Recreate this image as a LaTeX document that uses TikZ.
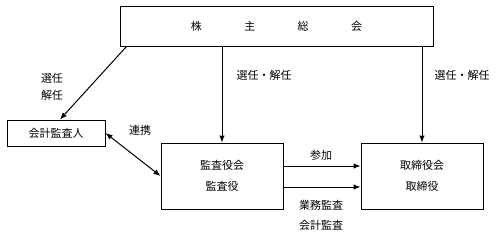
\documentclass[tikz,border=0pt]{standalone}
\usepackage{fontspec}
\newfontfamily\jpfont{Noto Sans CJK JP}
\usetikzlibrary{positioning,calc,arrows.meta}
\tikzset{
  orgbox/.style={draw,line width=1pt,align=center,inner sep=0pt,font=\jpfont\fontsize{11}{21}\selectfont},
  lbl/.style={align=center,inner sep=0pt,font=\jpfont\fontsize{11}{17}\selectfont},
  link/.style={line width=1pt,-{Latex[length=7pt,width=5.5pt]}},
  duallink/.style={line width=1pt,{Latex[length=7pt,width=5.5pt]}-{Latex[length=7pt,width=5.5pt]}},
}
\newcommand{\wide}{\hspace{3.85em}}

\begin{document}
\begin{tikzpicture}[x=1pt,y=1pt]
  \useasboundingbox (0,0) rectangle (501,239);
  % boxes
  \node[orgbox,minimum width=313pt,minimum height=39pt] (gm) at (276.5,212.5) {株\wide 主\wide 総\wide 会};
  \node[orgbox,minimum width=98pt,minimum height=26pt] (acct) at (56,106) {会計監査人};
  \node[orgbox,minimum width=122pt,minimum height=66pt] (aud) at (222,63) {監査役会\\監査役};
  \node[orgbox,minimum width=122pt,minimum height=66pt] (brd) at (422,63) {取締役会\\取締役};
  % connectors
  \draw[link] ($(gm.south west)+(7,0)$) -- ($(acct.north)+(4,0)$);
  \draw[link] (aud.north |- gm.south) -- (aud.north);
  \draw[link] (brd.north |- gm.south) -- (brd.north);
  \draw[duallink] (acct.east) -- (aud.west);
  \draw[link] ($(aud.east)+(0,10)$) -- ($(brd.west)+(0,10)$);
  \draw[link] ($(aud.east)+(0,-11)$) -- ($(brd.west)+(0,-11)$);
  % labels
  \node[lbl] (l1) at (52,152) {選任\\解任};
  \node[lbl] (l2) at (264,164) {選任・解任};
  \node[lbl] (l3) at (462,164) {選任・解任};
  \node[lbl] (l4) at (140,109) {連携};
  \node[lbl] (l5) at (321,84) {参加};
  \node[lbl,font=\jpfont\fontsize{11}{20}\selectfont] (l6) at (321,24) {業務監査\\会計監査};
\end{tikzpicture}
\end{document}
